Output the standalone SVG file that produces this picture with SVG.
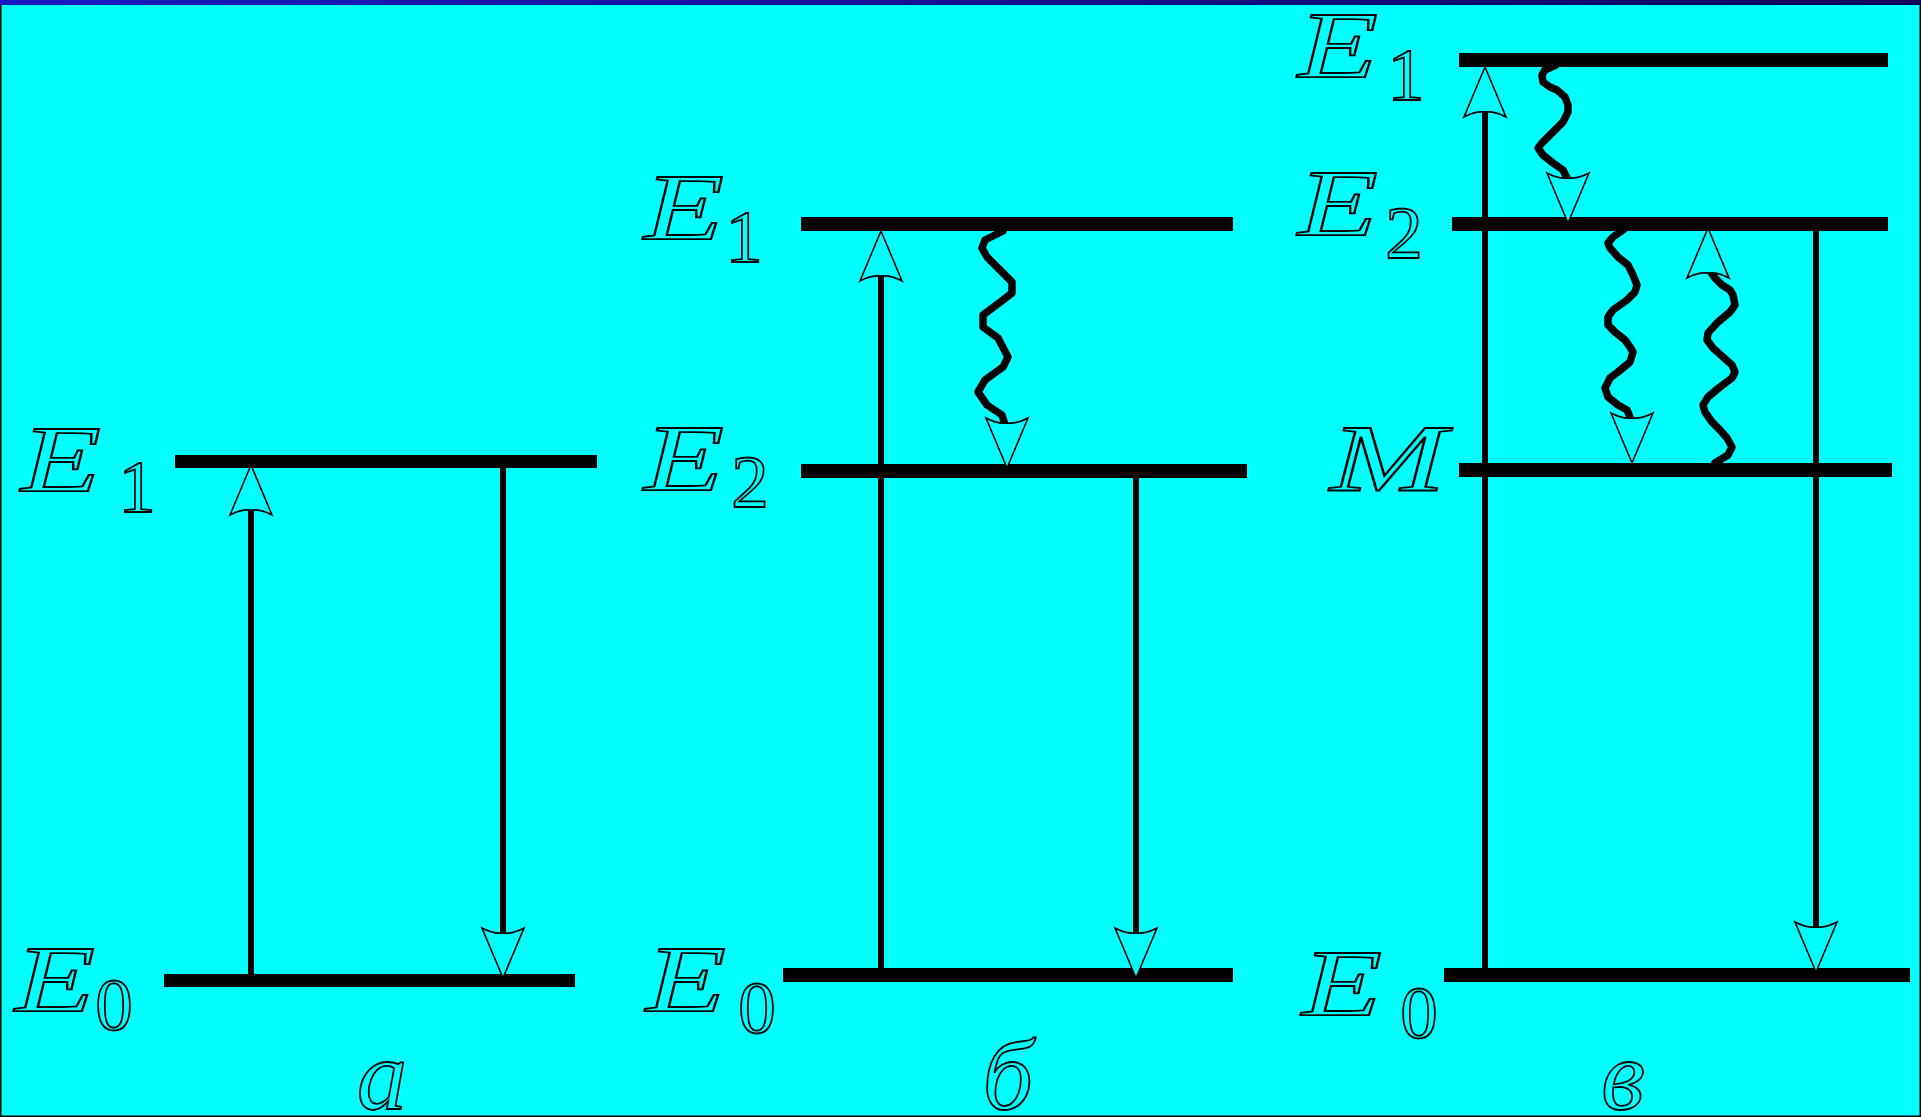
<svg xmlns="http://www.w3.org/2000/svg" width="1921" height="1117" viewBox="0 0 1921 1117">
<defs>
<linearGradient id="topbar" x1="0" y1="0" x2="1" y2="0">
<stop offset="0" stop-color="#1a1ac4"/>
<stop offset="1" stop-color="#06065a"/>
</linearGradient>
<path id="headUp" d="M0,0 L21,50 Q10,44 0,45 Q-10,44 -21,50 Z"/>
<path id="headDown" d="M0,0 L-21,-50 Q-10,-44 0,-45 Q10,-44 21,-50 Z"/>
</defs>
<style>
.bar { fill: #000; }
.line { stroke: #000; stroke-width: 6; fill: none; }
.wave { stroke: #000; stroke-width: 7.5; fill: none; stroke-linejoin: round; stroke-linecap: round; }
.head { fill: #00FFFF; stroke: #000; stroke-width: 1.6; stroke-linejoin: miter; }
.lbl { font-family: "Liberation Serif", "Times New Roman", serif; fill: #00FFFF; stroke: #000; stroke-width: 1.8; }
.E { font-style: italic; font-size: 96px; }
.sub { font-size: 75px; text-anchor: middle; }
.cap { font-style: italic; font-size: 100px; text-anchor: middle; }
</style>
<rect x="0" y="0" width="1921" height="1117" fill="#00FFFF"/>
<rect x="0.75" y="0.75" width="1919.5" height="1115.5" fill="none" stroke="#000" stroke-width="1.5"/>
<rect x="0" y="0" width="1921" height="5" fill="url(#topbar)"/>

<g id="levels-a">
<rect class="bar" x="175" y="455" width="422" height="13"/>
<rect class="bar" x="164" y="974" width="411" height="13"/>
</g>
<g id="levels-b">
<rect class="bar" x="801" y="217" width="432" height="14"/>
<rect class="bar" x="801" y="464" width="446" height="14"/>
<rect class="bar" x="783" y="968" width="450" height="14"/>
</g>
<g id="levels-c">
<rect class="bar" x="1459" y="53" width="429" height="14"/>
<rect class="bar" x="1452" y="217" width="436" height="14"/>
<rect class="bar" x="1459" y="463" width="433" height="14"/>
<rect class="bar" x="1444" y="968" width="466" height="14"/>
</g>

<g id="connectors">
<!-- panel a -->
<path class="line" d="M251,974 V506"/>
<use href="#headUp" class="head" x="251" y="465"/>
<path class="line" d="M503,468 V936"/>
<use href="#headDown" class="head" x="503" y="978"/>
<!-- panel b -->
<path class="line" d="M881,968 V273"/>
<use href="#headUp" class="head" x="881" y="231"/>
<path class="line" d="M1136,478 V936"/>
<use href="#headDown" class="head" x="1136" y="978"/>
<polyline class="wave" points="1003,231 985,240 982,248 987,257 1012,282 1012,293 1003,300 983,315 983,327 998,338 1008,357 1003,367 985,380 978,392 987,405 1002,415 1005,425"/>
<use href="#headDown" class="head" x="1007" y="468"/>
<!-- panel c -->
<path class="line" d="M1485,968 V110"/>
<use href="#headUp" class="head" x="1485" y="67"/>
<path class="line" d="M1816,231 V930"/>
<use href="#headDown" class="head" x="1816" y="972"/>
<polyline class="wave" points="1557,62 1556,65 1545,70 1542,75 1543,82 1550,87 1557,90 1565,97 1568,105 1568,112 1563,122 1553,132 1542,143 1538,148 1543,155 1553,163 1563,170 1568,180"/>
<use href="#headDown" class="head" x="1568" y="223"/>
<polyline class="wave" points="1625,228 1623,230 1613,237 1608,243 1610,248 1618,257 1628,265 1633,275 1637,285 1635,292 1627,300 1613,310 1608,317 1608,325 1615,332 1625,340 1630,347 1633,352 1630,362 1618,372 1610,378 1605,388 1608,397 1618,405 1627,410 1630,417 1631,420"/>
<use href="#headDown" class="head" x="1632" y="463"/>
<polyline class="wave" points="1715,463 1728,455 1732,447 1727,438 1720,430 1712,422 1705,412 1703,405 1708,397 1720,387 1732,378 1735,372 1732,365 1723,357 1713,348 1707,340 1708,333 1718,322 1730,312 1735,305 1733,295 1730,290 1722,285 1715,278 1710,271"/>
<use href="#headUp" class="head" x="1708" y="228"/>
</g>

<g id="labels-a">
<text class="lbl E" x="21" y="492" textLength="80" lengthAdjust="spacingAndGlyphs">E</text>
<text class="lbl sub" x="137" y="512">1</text>
<text class="lbl E" x="15" y="1012" textLength="80" lengthAdjust="spacingAndGlyphs">E</text>
<text class="lbl sub" x="114" y="1030">0</text>
<text class="lbl cap" x="382" y="1109">а</text>
</g>
<g id="labels-b">
<text class="lbl E" x="644" y="240" textLength="80" lengthAdjust="spacingAndGlyphs">E</text>
<text class="lbl sub" x="744" y="262">1</text>
<text class="lbl E" x="644" y="491" textLength="80" lengthAdjust="spacingAndGlyphs">E</text>
<text class="lbl sub" x="750" y="507">2</text>
<text class="lbl E" x="646" y="1012" textLength="80" lengthAdjust="spacingAndGlyphs">E</text>
<text class="lbl sub" x="757" y="1033">0</text>
<text class="lbl cap" x="1008" y="1109">б</text>
</g>
<g id="labels-c">
<text class="lbl E" x="1298" y="78" textLength="80" lengthAdjust="spacingAndGlyphs">E</text>
<text class="lbl sub" x="1406" y="100">1</text>
<text class="lbl E" x="1298" y="236" textLength="80" lengthAdjust="spacingAndGlyphs">E</text>
<text class="lbl sub" x="1404" y="258">2</text>
<text class="lbl E" x="1330" y="491" font-size="98" textLength="116" lengthAdjust="spacingAndGlyphs">M</text>
<text class="lbl E" x="1302" y="1016" textLength="80" lengthAdjust="spacingAndGlyphs">E</text>
<text class="lbl sub" x="1419" y="1038">0</text>
<text class="lbl cap" x="1623" y="1109">в</text>
</g>
</svg>
